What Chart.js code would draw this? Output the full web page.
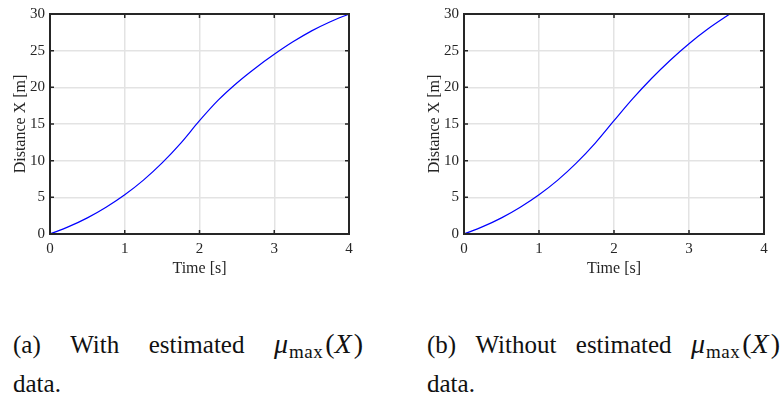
<!DOCTYPE html>
<html><head><meta charset="utf-8">
<script src="https://cdn.jsdelivr.net/npm/chart.js@4.4.1/dist/chart.umd.min.js"></script>
<style>
html,body{margin:0;padding:0;background:#fff;overflow:hidden;width:781px;height:403px;}
.c{position:absolute;top:0;height:290px;}
.cap{position:absolute;font-family:"Liberation Serif","Times New Roman",Times,serif;font-size:25px;line-height:25px;color:#111;white-space:nowrap;}
.row{display:flex;justify-content:space-between;align-items:baseline;}
.m{font-size:28px;}
.sub{font-size:19px;letter-spacing:0.5px;position:relative;top:5px;font-style:normal;margin:0 2px 0 1px;}
.x{margin-right:2px;}
</style></head><body>
<div class="c" style="left:0;width:390px"><canvas id="ca" width="390" height="290"></canvas></div>
<div class="c" style="left:414px;width:367px"><canvas id="cb" width="367" height="290"></canvas></div>
<div class="cap row" style="left:13px;top:331px;width:350px"><span>(a)</span><span>With</span><span>estimated</span><span class="m"><i>μ</i><span class="sub">max</span>(<i class="x">X</i>)</span></div>
<div class="cap" style="left:13px;top:371px">data.</div>
<div class="cap row" style="left:427px;top:331px;width:353px"><span>(b)</span><span>Without</span><span>estimated</span><span class="m"><i>μ</i><span class="sub">max</span>(<i class="x">X</i>)</span></div>
<div class="cap" style="left:427px;top:371px">data.</div>
<script>
// Data
const timeA = [0,0.25,0.5,0.75,1,1.25,1.5,1.75,2,2.25,2.5,2.75,3,3.25,3.5,3.75,4];
const distA = [0,1.0,2.2,3.65,5.35,7.35,9.7,12.4,15.45,18.25,20.6,22.65,24.5,26.2,27.7,28.95,30.0];
const timeB = [0,0.25,0.5,0.75,1,1.25,1.5,1.75,2,2.25,2.5,2.75,3,3.25,3.5,3.545];
const distB = [0,1.0,2.2,3.65,5.35,7.35,9.7,12.4,15.45,18.45,21.2,23.7,25.95,27.95,29.7,30.0];
const xTicks = [0,1,2,3,4];
const yTicks = [0,5,10,15,20,25,30];

const AX = '#262626';
const FONT = 'Liberation Serif';

const boxPlugin = {
  id: 'box',
  afterDatasetsDraw(chart) {
    const {ctx, chartArea: a, scales: {x, y}} = chart;
    ctx.save();
    ctx.strokeStyle = AX;
    ctx.lineWidth = 1.5;
    ctx.beginPath();
    x.ticks.forEach(t => {
      const p = x.getPixelForValue(t.value);
      ctx.moveTo(p, a.bottom); ctx.lineTo(p, a.bottom - 4);
      ctx.moveTo(p, a.top); ctx.lineTo(p, a.top + 4);
    });
    y.ticks.forEach(t => {
      const p = y.getPixelForValue(t.value);
      ctx.moveTo(a.left, p); ctx.lineTo(a.left + 4, p);
      ctx.moveTo(a.right, p); ctx.lineTo(a.right - 4, p);
    });
    ctx.stroke();
    ctx.lineWidth = 2;
    ctx.strokeRect(a.left, a.top, a.right - a.left, a.bottom - a.top);
    ctx.restore();
  }
};

function makeChart(id, times, dists, padRight) {
  const pts = times.map((t, i) => ({x: t, y: dists[i]}));
  return new Chart(document.getElementById(id), {
    type: 'line',
    data: { datasets: [{ data: pts, borderColor: '#0000ff', borderWidth: 1.2, pointRadius: 0, cubicInterpolationMode: 'monotone', fill: false }] },
    options: {
      responsive: false,
      animation: false,
      layout: { padding: { top: 7.5, right: padRight, left: 0, bottom: 0 } },
      plugins: { legend: { display: false }, tooltip: { enabled: false } },
      scales: {
        x: {
          type: 'linear', min: xTicks[0], max: xTicks[xTicks.length - 1],
          afterBuildTicks: s => { s.ticks = xTicks.map(v => ({value: v})); },
          afterFit: s => { s.height = 56; },
          grid: { color: '#e3e3e3', lineWidth: 1.5, drawTicks: false },
          border: { display: false },
          ticks: { color: AX, font: { family: FONT, size: 15 }, padding: 6, maxRotation: 0 },
          title: { display: true, text: 'Time [s]', color: AX, font: { family: FONT, size: 16 }, padding: { top: 0, bottom: 12 } }
        },
        y: {
          type: 'linear', min: yTicks[0], max: yTicks[yTicks.length - 1],
          afterBuildTicks: s => { s.ticks = yTicks.map(v => ({value: v})); },
          afterFit: s => { s.width = 50; },
          grid: { color: '#e3e3e3', lineWidth: 1.5, drawTicks: false },
          border: { display: false },
          ticks: { color: AX, font: { family: FONT, size: 15 }, padding: 5 },
          title: { display: true, text: 'Distance X [m]', color: AX, font: { family: FONT, size: 16 }, padding: { top: 11, bottom: 0 } }
        }
      }
    },
    plugins: [boxPlugin]
  });
}

makeChart('ca', timeA, distA, 41);
makeChart('cb', timeB, distB, 17);
</script>
</body></html>
